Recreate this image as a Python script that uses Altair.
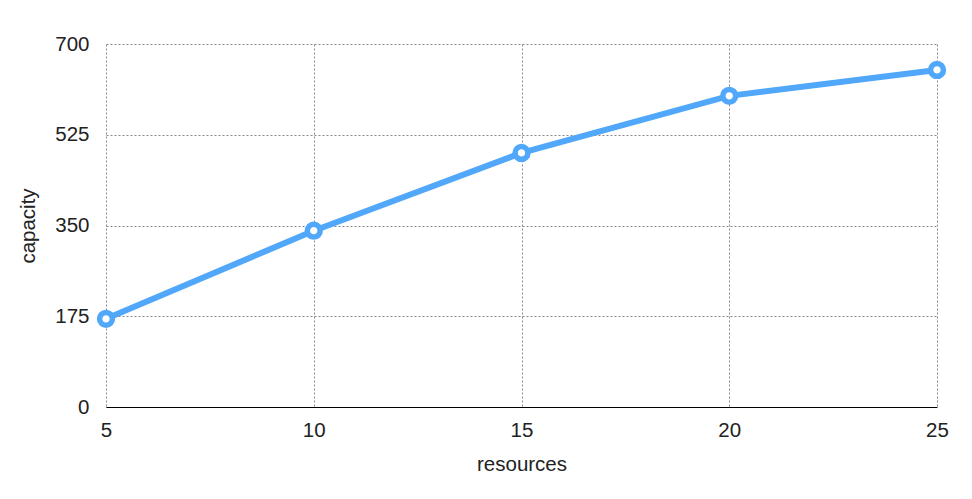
import altair as alt
import pandas as pd

resources = [5, 10, 15, 20, 25]
capacity = [170, 340, 490, 600, 650]

df = pd.DataFrame({"resources": resources, "capacity": capacity})

FONT = "Liberation Sans"
BLUE = "#51a7f9"

x = alt.X("resources:Q",
          scale=alt.Scale(domain=[5, 25], nice=False, zero=False),
          axis=alt.Axis(values=[5, 10, 15, 20, 25], title="resources",
                        grid=True, gridDash=[2, 2], gridColor="#888", gridWidth=1,
                        domain=True, domainColor="#000", domainWidth=1,
                        ticks=False, labelPadding=13, labelFlush=False,
                        titlePadding=14))
y = alt.Y("capacity:Q",
          scale=alt.Scale(domain=[0, 700], nice=False),
          axis=alt.Axis(values=[0, 175, 350, 525, 700], title="capacity",
                        grid=True, gridDash=[2, 2], gridColor="#888", gridWidth=1,
                        domain=False, ticks=False, labelPadding=17, labelFlush=False,
                        titlePadding=16))

line = alt.Chart(df).mark_line(color=BLUE, strokeWidth=6).encode(x=x, y=y)
pts = alt.Chart(df).mark_point(filled=True, fill="white", stroke=BLUE, strokeWidth=5.5,
                               size=165, opacity=1, shape="circle").encode(x=x, y=y)

chart = (line + pts).properties(
    width=831, height=363,
    autosize=alt.AutoSizeParams(type="none"),
    padding={"left": 98, "top": 36, "right": 20, "bottom": 80},
).configure_view(stroke=None).configure_axis(
    labelFont=FONT, titleFont=FONT, labelFontSize=20.5, titleFontSize=20.5,
    labelColor="#222", titleColor="#222", titleFontWeight="normal",
)

chart.save("out.html", embed_options={"renderer": "svg", "actions": False})
